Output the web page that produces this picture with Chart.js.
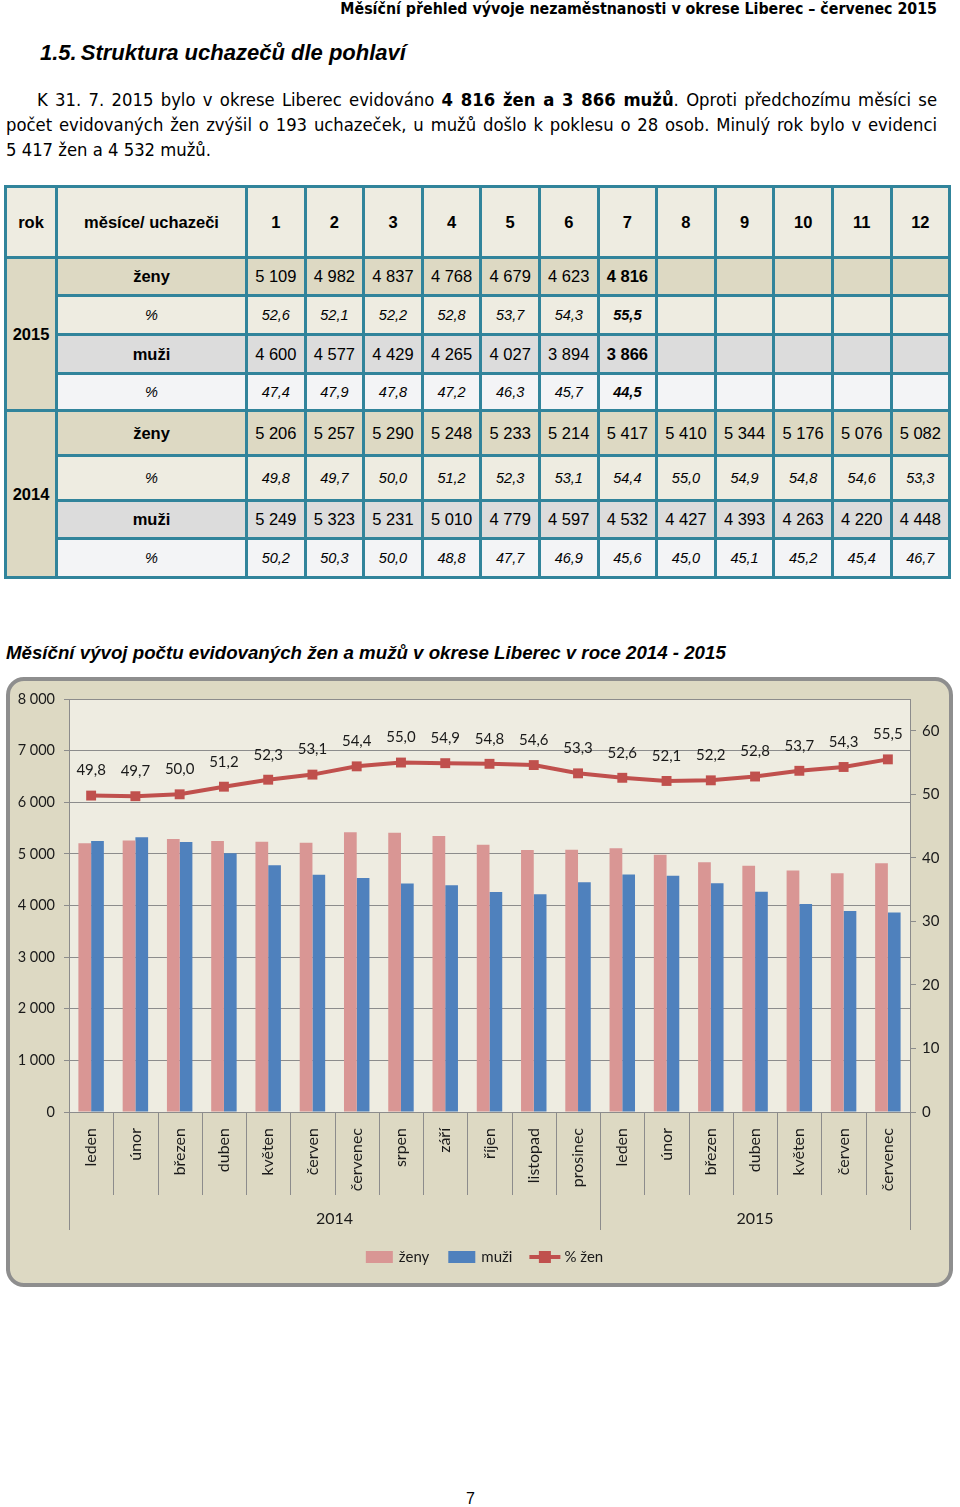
<!DOCTYPE html>
<html lang="cs">
<head>
<meta charset="utf-8">
<script src="https://cdn.jsdelivr.net/npm/chart.js@4.4.1/dist/chart.umd.min.js"></script>
<style>
  html, body { margin:0; padding:0; background:#fff; }
  body { width:960px; height:1507px; position:relative; overflow:hidden; font-family:"Liberation Sans", Arial, sans-serif; color:#000; }
  .narrow { font-family:"Liberation Sans Narrow","Arial Narrow","DejaVu Sans Condensed",sans-serif; font-stretch:condensed; }
  #hdr { position:absolute; right:23px; top:0px; font-size:15.8px; font-weight:bold; line-height:18px; white-space:nowrap; }
  #h1 { position:absolute; left:40px; top:39px; font-size:22px; font-weight:bold; font-style:italic; white-space:nowrap; line-height:28px; }
  #par { position:absolute; left:6px; top:87px; width:931px; font-size:18.3px; line-height:25px; text-align:justify; text-indent:31px; }
  #tbl { position:absolute; left:4px; top:185px; border-collapse:collapse; table-layout:fixed; width:945px; }
  #tbl td { border:3px solid #31849b; text-align:center; padding:0; font-size:16.5px; overflow:hidden; white-space:nowrap; }
  #tbl .hd td { background:#eeece1; font-weight:bold; height:68px; }
  #tbl td.rok { background:#eeece1; font-weight:bold; }
  #tbl tr.z td { background:#ddd9c3; }
  #tbl tr.zp td { background:#eeece1; font-style:italic; font-size:14.5px; }
  #tbl tr.m td { background:#dcdcdc; }
  #tbl tr.mp td { background:#f3f4f6; font-style:italic; font-size:14.5px; }
  #tbl td.lab { font-weight:bold; }
  #tbl td.labp { font-weight:normal; }
  #tbl td.b { font-weight:bold; }
  #ctitle { position:absolute; left:6px; top:642px; font-size:18.7px; font-weight:bold; font-style:italic; white-space:nowrap; line-height:22px; }
  #box { position:absolute; left:6px; top:677px; width:947px; height:610px; box-sizing:border-box; border:4px solid #8e8e8e; border-radius:18px; background:#ddd9c3; overflow:hidden; }
  #cwrap { position:absolute; left:0; top:0; width:939px; height:602px; }
  #pg { position:absolute; left:466px; top:1489px; font-size:16px; line-height:20px; }
</style>
</head>
<body>
<div id="hdr" class="narrow">Měsíční přehled vývoje nezaměstnanosti v okrese Liberec – červenec 2015</div>
<div id="h1">1.5.<span style="margin-left:4px">Struktura uchazečů dle pohlaví</span></div>
<div id="par" class="narrow">K 31. 7. 2015 bylo v okrese Liberec evidováno <b>4&nbsp;816 žen a 3&nbsp;866 mužů</b>. Oproti předchozímu měsíci se počet evidovaných žen zvýšil o 193 uchazeček, u mužů došlo k poklesu o 28 osob. Minulý rok bylo v evidenci 5&nbsp;417 žen a 4&nbsp;532 mužů.</div>
<table id="tbl"></table>
<div id="ctitle">Měsíční vývoj počtu evidovaných žen a mužů v okrese Liberec v roce 2014 - 2015</div>
<div id="box"><div id="cwrap"><canvas id="c" width="939" height="602"></canvas></div></div>
<div id="pg">7</div>
<script>
// ---- data ----
const monthNums = ['1','2','3','4','5','6','7','8','9','10','11','12'];
const months2014 = ['leden','únor','březen','duben','květen','červen','červenec','srpen','září','říjen','listopad','prosinec'];
const months2015 = ['leden','únor','březen','duben','květen','červen','červenec'];
const years = ['2014','2015'];
const zeny2015 = [5109, 4982, 4837, 4768, 4679, 4623, 4816];
const pctZeny2015 = [52.6, 52.1, 52.2, 52.8, 53.7, 54.3, 55.5];
const muzi2015 = [4600, 4577, 4429, 4265, 4027, 3894, 3866];
const pctMuzi2015 = [47.4, 47.9, 47.8, 47.2, 46.3, 45.7, 44.5];
const zeny2014 = [5206, 5257, 5290, 5248, 5233, 5214, 5417, 5410, 5344, 5176, 5076, 5082];
const pctZeny2014 = [49.8, 49.7, 50.0, 51.2, 52.3, 53.1, 54.4, 55.0, 54.9, 54.8, 54.6, 53.3];
const muzi2014 = [5249, 5323, 5231, 5010, 4779, 4597, 4532, 4427, 4393, 4263, 4220, 4448];
const pctMuzi2014 = [50.2, 50.3, 50.0, 48.8, 47.7, 46.9, 45.6, 45.0, 45.1, 45.2, 45.4, 46.7];
const legendLabels = ['ženy', 'muži', '% žen'];

// ---- table ----
const fmtInt = v => { const s = String(v); return s.length > 3 ? s.slice(0, s.length - 3) + ' ' + s.slice(-3) : s; };
const fmtDec = v => v.toFixed(1).replace('.', ',');
(function buildTable(){
  const t = document.getElementById('tbl');
  let h = '<colgroup><col style="width:51px"><col style="width:190px">';
  for (let i = 0; i < 12; i++) h += '<col style="width:58.6px">';
  h += '</colgroup>';
  h += '<tr class="hd"><td>rok</td><td>měsíce/ uchazeči</td>' + monthNums.map(m => '<td>' + m + '</td>').join('') + '</tr>';
  function rows(year, z, pz, m, pm, hts, boldLast) {
    const defs = [['z','ženy',z,fmtInt,'lab'],['zp','%',pz,fmtDec,'labp'],['m','muži',m,fmtInt,'lab'],['mp','%',pm,fmtDec,'labp']];
    let out = '';
    defs.forEach((d, r) => {
      out += '<tr class="' + d[0] + '" style="height:' + hts[r] + 'px">';
      if (r === 0) out += '<td class="rok" rowspan="4">' + year + '</td>';
      out += '<td class="' + d[4] + '">' + d[1] + '</td>';
      for (let i = 0; i < 12; i++) {
        const v = d[2][i];
        const cls = (boldLast && i === d[2].length - 1) ? ' class="b"' : '';
        out += '<td' + cls + '>' + (v === undefined ? '' : d[3](v)) + '</td>';
      }
      out += '</tr>';
    });
    return out;
  }
  h += rows(years[1], zeny2015, pctZeny2015, muzi2015, pctMuzi2015, [38, 39, 39, 37], true);
  h += rows(years[0], zeny2014, pctZeny2014, muzi2014, pctMuzi2014, [45, 45, 38, 39], false);
  t.innerHTML = h;
})();

// ---- chart ----
const labels = months2014.concat(months2015);
const zeny = zeny2014.concat(zeny2015);
const muzi = muzi2014.concat(muzi2015);
const pctZeny = pctZeny2014.concat(pctZeny2015);
const colZ = '#d99694', colM = '#4f81bd', colL = '#c0504d', gridCol = '#8c8c8c';
const FONT = 'Lato, "Open Sans", sans-serif';

const plotBg = {
  id: 'plotBg',
  beforeDraw(chart) {
    const a = chart.chartArea, ctx = chart.ctx;
    ctx.save(); ctx.fillStyle = '#eeece1';
    ctx.fillRect(a.left, a.top, a.right - a.left, a.bottom - a.top);
    ctx.restore();
  }
};
const dataLabels = {
  id: 'dataLabels',
  afterDatasetsDraw(chart) {
    const meta = chart.getDatasetMeta(2), ctx = chart.ctx;
    ctx.save();
    ctx.font = '15px ' + FONT; ctx.fillStyle = '#1a1a1a';
    ctx.textAlign = 'center'; ctx.textBaseline = 'middle';
    meta.data.forEach((p, i) => ctx.fillText(fmtDec(chart.data.datasets[2].data[i]), p.x, p.y - 25));
    ctx.restore();
  }
};
const multiAxis = {
  id: 'multiAxis',
  afterDraw(chart) {
    const xs = chart.scales.x, ctx = chart.ctx, b = chart.chartArea.bottom;
    const n = labels.length;
    const bound = i => i === 0 ? xs.left : (i === n ? xs.right : (xs.getPixelForValue(i - 1) + xs.getPixelForValue(i)) / 2);
    ctx.save();
    ctx.strokeStyle = gridCol; ctx.lineWidth = 1;
    for (let i = 0; i <= n; i++) {
      const x = Math.round(bound(i)) + 0.5;
      const long = (i === 0 || i === n || i === months2014.length);
      ctx.beginPath(); ctx.moveTo(x, b); ctx.lineTo(x, b + (long ? 118 : 83)); ctx.stroke();
    }
    ctx.font = '16px ' + FONT; ctx.fillStyle = '#1a1a1a'; ctx.textAlign = 'center'; ctx.textBaseline = 'middle';
    const c1 = (bound(0) + bound(months2014.length)) / 2;
    const c2 = (bound(months2014.length) + bound(n)) / 2;
    ctx.fillText(years[0], c1, b + 107);
    ctx.fillText(years[1], c2, b + 107);
    ctx.restore();
  }
};
const customLegend = {
  id: 'customLegend',
  afterDraw(chart) {
    const ctx = chart.ctx;
    ctx.save();
    ctx.font = '15px ' + FONT; ctx.textBaseline = 'middle'; ctx.textAlign = 'left';
    const boxW = 27, gap = 6, spacing = 19;
    const widths = legendLabels.map(l => boxW + gap + ctx.measureText(l).width);
    const total = widths.reduce((a, w) => a + w, 0) + spacing * (legendLabels.length - 1);
    let x = chart.width / 2 - total / 2 + 5;
    const y = 576;
    const cols = [colZ, colM, colL];
    legendLabels.forEach((l, i) => {
      if (i < 2) {
        ctx.fillStyle = cols[i]; ctx.fillRect(x, y - 6, boxW, 12);
      } else {
        ctx.strokeStyle = colL; ctx.lineWidth = 4;
        ctx.beginPath(); ctx.moveTo(x - 2, y); ctx.lineTo(x + boxW + 2, y); ctx.stroke();
        ctx.fillStyle = colL; ctx.fillRect(x + boxW / 2 - 6, y - 6, 12, 12);
      }
      ctx.fillStyle = '#1a1a1a';
      ctx.fillText(l, x + boxW + gap, y);
      x += widths[i] + spacing;
    });
    ctx.restore();
  }
};

new Chart(document.getElementById('c'), {
  type: 'bar',
  data: {
    labels: labels,
    datasets: [
      { type: 'bar', label: legendLabels[0], data: zeny, backgroundColor: colZ, yAxisID: 'y', order: 1, categoryPercentage: 0.575, barPercentage: 1.0 },
      { type: 'bar', label: legendLabels[1], data: muzi, backgroundColor: colM, yAxisID: 'y', order: 1, categoryPercentage: 0.575, barPercentage: 1.0 },
      { type: 'line', label: legendLabels[2], data: pctZeny, yAxisID: 'y1', order: 0, borderColor: colL, borderWidth: 4, tension: 0,
        pointStyle: 'rect', pointRadius: 7, pointHoverRadius: 7, pointBackgroundColor: colL, pointBorderColor: colL, pointBorderWidth: 0 }
    ]
  },
  options: {
    responsive: false, animation: false, devicePixelRatio: 1,
    layout: { padding: { top: 18, bottom: 41, left: 0, right: 0 } },
    plugins: { legend: { display: false }, tooltip: { enabled: false } },
    scales: {
      x: {
        offset: true,
        grid: { display: false },
        border: { display: false },
        ticks: { autoSkip: false, minRotation: 90, maxRotation: 90, padding: 8, color: '#1a1a1a', font: { family: FONT, size: 16 } },
        afterFit(s) { s.height = 130; }
      },
      y: {
        position: 'left', min: 0, max: 8000,
        ticks: { stepSize: 1000, padding: 9, color: '#1a1a1a', font: { family: FONT, size: 14.5 }, callback: v => fmtInt(v) },
        grid: { color: gridCol, tickLength: 5, lineWidth: 1 },
        border: { display: true, color: gridCol },
        afterFit(s) { s.width = 59; }
      },
      y1: {
        position: 'right', min: 0, max: 65,
        ticks: { stepSize: 10, padding: 6, color: '#1a1a1a', font: { family: FONT, size: 15 } },
        afterBuildTicks(s) { s.ticks = s.ticks.filter(t => t.value % 10 === 0); },
        grid: { drawOnChartArea: false, color: gridCol, tickLength: 6 },
        border: { display: true, color: gridCol },
        afterFit(s) { s.width = 39; }
      }
    }
  },
  plugins: [plotBg, dataLabels, multiAxis, customLegend]
});
</script>
</body>
</html>
